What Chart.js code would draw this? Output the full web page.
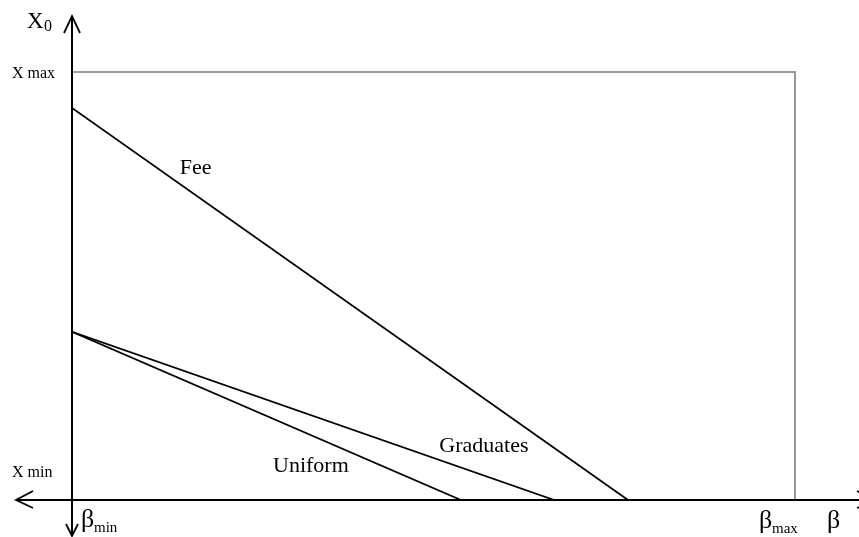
<!DOCTYPE html>
<html>
<head>
<meta charset="utf-8">
<script src="https://cdn.jsdelivr.net/npm/chart.js@4.4.1/dist/chart.umd.min.js"></script>
<style>
  body { margin: 0; background: #fff; }
  canvas { display: block; }
</style>
</head>
<body>
<canvas id="myChart" width="859" height="537"></canvas>
<script>
// beta runs from beta_min (0) to beta_max (1), X0 from X min (0) to X max (1)
const seriesNames = ['Fee', 'Graduates', 'Uniform'];
const startX0 = [0.916, 0.393, 0.393];   // X0 value where each line meets beta_min
const endBeta = [0.769, 0.667, 0.538];   // beta value where each line hits X min
const yTickLabels = ['X min', 'X max'];
const xTickLabels = ['min', 'max'];       // subscripts of beta

const serif = '"Liberation Serif", "Times New Roman", serif';

function arrow(ctx, tip, a, b) {
    ctx.beginPath();
    ctx.moveTo(a[0], a[1]);
    ctx.lineTo(tip[0], tip[1]);
    ctx.lineTo(b[0], b[1]);
    ctx.stroke();
}

const axesPlugin = {
    id: 'axesPlugin',
    beforeDatasetsDraw: function(chart) {
        const ctx = chart.ctx;
        const x = chart.scales.x, y = chart.scales.y;
        const x0 = x.getPixelForValue(0), x1 = x.getPixelForValue(1);
        const y0 = y.getPixelForValue(0), y1 = y.getPixelForValue(1);
        ctx.save();
        // grey frame at X max / beta max
        ctx.strokeStyle = '#999999';
        ctx.lineWidth = 2;
        ctx.beginPath();
        ctx.moveTo(x0, y1);
        ctx.lineTo(x1, y1);
        ctx.lineTo(x1, y0);
        ctx.stroke();
        ctx.restore();
    },
    afterDraw: function(chart) {
        const ctx = chart.ctx;
        const x = chart.scales.x, y = chart.scales.y;
        const x0 = x.getPixelForValue(0), x1 = x.getPixelForValue(1);
        const y0 = y.getPixelForValue(0), y1 = y.getPixelForValue(1);
        ctx.save();
        ctx.strokeStyle = '#000';
        ctx.lineWidth = 2;
        // axes
        ctx.beginPath();
        ctx.moveTo(x0, 16); ctx.lineTo(x0, 536);
        ctx.moveTo(16, y0); ctx.lineTo(859, y0);
        ctx.stroke();
        ctx.lineWidth = 1.8;
        arrow(ctx, [x0, 16], [x0 - 8, 33], [x0 + 8, 33]);
        arrow(ctx, [x0, 536], [x0 - 6, 524], [x0 + 6, 524]);
        arrow(ctx, [16, y0], [33, y0 - 9], [33, y0 + 8]);
        arrow(ctx, [876, y0], [857, y0 - 9], [857, y0 + 8]);

        ctx.fillStyle = '#000';
        ctx.textBaseline = 'alphabetic';
        ctx.textAlign = 'left';
        // y axis title and ticks
        ctx.font = '23px ' + serif;
        ctx.fillText('X', 27, 28);
        ctx.font = '16px ' + serif;
        ctx.fillText('0', 44, 31);
        ctx.font = '16px ' + serif;
        ctx.fillText(yTickLabels[1], 12, y1 + 6);
        ctx.fillText(yTickLabels[0], 12, y0 - 23);
        // x axis ticks and title
        ctx.font = '26px ' + serif;
        ctx.fillText('β', x0 + 9, 527);
        ctx.fillText('β', x1 - 36, 528);
        ctx.fillText('β', 827, 528);
        ctx.font = '15px ' + serif;
        ctx.fillText(xTickLabels[0], x0 + 22, 532);
        ctx.fillText(xTickLabels[1], x1 - 23, 533);
        // series labels
        const pos = { 'Fee': [0.149, 0.762], 'Graduates': [0.508, 0.112], 'Uniform': [0.278, 0.065] };
        ctx.font = '22px ' + serif;
        seriesNames.forEach(function(name) {
            ctx.fillText(name, x.getPixelForValue(pos[name][0]), y.getPixelForValue(pos[name][1]));
        });
        ctx.restore();
    }
};

var ctx = document.getElementById('myChart').getContext('2d');

var myChart = new Chart(ctx, {
    type: 'line',
    data: {
        datasets: seriesNames.map(function(name, i) {
            return {
                label: name,
                data: [{ x: 0, y: startX0[i] }, { x: endBeta[i], y: 0 }],
                borderColor: '#000',
                borderWidth: 1.8,
                pointRadius: 0,
                fill: false
            };
        })
    },
    options: {
        responsive: false,
        animation: false,
        layout: { padding: { left: 72, right: 64, top: 72, bottom: 37 } },
        scales: {
            x: { type: 'linear', min: 0, max: 1, display: false },
            y: { type: 'linear', min: 0, max: 1, display: false }
        },
        plugins: {
            legend: { display: false },
            tooltip: { enabled: false }
        }
    },
    plugins: [axesPlugin]
});
</script>
</body>
</html>
